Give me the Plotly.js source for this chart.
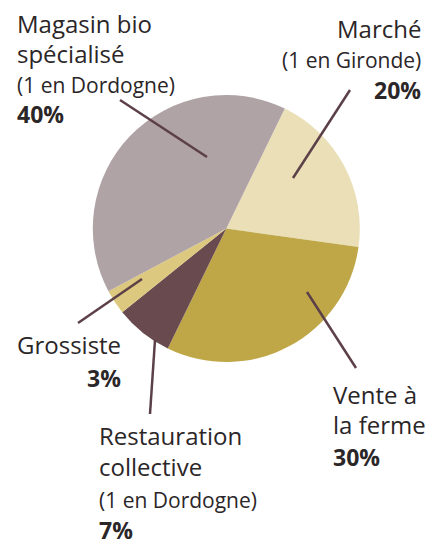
<!DOCTYPE html>
<html><head><meta charset="utf-8">
<script src="https://cdn.plot.ly/plotly-3.0.1.min.js"></script>
<style>html,body{margin:0;padding:0;background:#fff}#chart{width:433px;height:540px}</style>
</head><body><div id="chart"></div>
<script>
// Data
var categories = ["Marché", "Vente à la ferme", "Restauration collective", "Grossiste", "Magasin bio spécialisé"];
var values = [20, 30, 7, 3, 40];
var colors = ["#eadfb7", "#bfa748", "#684a4f", "#dcc87e", "#b0a3a5"];

var W = 433, H = 540;
var cx = 226.3, cy = 228.5, r = 133.5;
var FONT = "'Open Sans', 'Noto Sans', sans-serif";
var TXT = "#2b2628";
var LINE = "#5c4048";
var S1 = 24, S2 = 21, S3 = 23;

// label geometry (layout only): [text, baseline y, size, bold]; leader line
var labels = [
  {x:423, anchor:"right", lines:[["Marché",37,S1,false],["(1 en Gironde)",68,S2,false],["20%",98,S3,true]], ln:[350,90,293,178]},
  {x:331, anchor:"left", lines:[["Vente à",403,S1,false],["la ferme",433,S1,false],["30%",465,S3,true]], ln:[307,292,356,368]},
  {x:97, anchor:"left", lines:[["Restauration",444,S1,false],["collective",475,S1,false],["(1 en Dordogne)",508,S2,false],["7%",538,S3,true]], ln:[155,340,150,414]},
  {x:123, anchor:"right", lines:[["Grossiste",353,S1,false],["3%",386,S3,true]], ln:[142,279,78,323]},
  {x:15, anchor:"left", lines:[["Magasin bio",32,S1,false],["spécialisé",62,S1,false],["(1 en Dordogne)",93,S2,false],["40%",122,S3,true]], ln:[120,100,207,157]}
];

var annotations = [], shapes = [];
labels.forEach(function(L){
  L.lines.forEach(function(l){
    annotations.push({
      xref:"paper", yref:"paper", x:L.x/W, y:1-(l[1]-0.36*l[2])/H,
      xanchor:L.anchor, yanchor:"middle", showarrow:false,
      text: l[3] ? "<b>"+l[0]+"</b>" : l[0],
      font:{family:FONT, size:l[2], color:TXT}
    });
  });
  shapes.push({type:"line", xref:"paper", yref:"paper",
    x0:L.ln[0]/W, y0:1-L.ln[1]/H, x1:L.ln[2]/W, y1:1-L.ln[3]/H,
    line:{color:LINE, width:2.5}});
});

var trace = {
  type:"pie", labels:categories, values:values, sort:false,
  direction:"clockwise", rotation:26,
  marker:{colors:colors, line:{width:0}},
  textinfo:"none", hoverinfo:"label+percent",
  domain:{x:[(cx-r)/W,(cx+r)/W], y:[1-(cy+r)/H, 1-(cy-r)/H]}
};

Plotly.newPlot("chart", [trace], {
  width:W, height:H, margin:{l:0,r:0,t:0,b:0},
  paper_bgcolor:"#fff", showlegend:false,
  annotations:annotations, shapes:shapes
}, {displayModeBar:false, staticPlot:true});
</script></body></html>
